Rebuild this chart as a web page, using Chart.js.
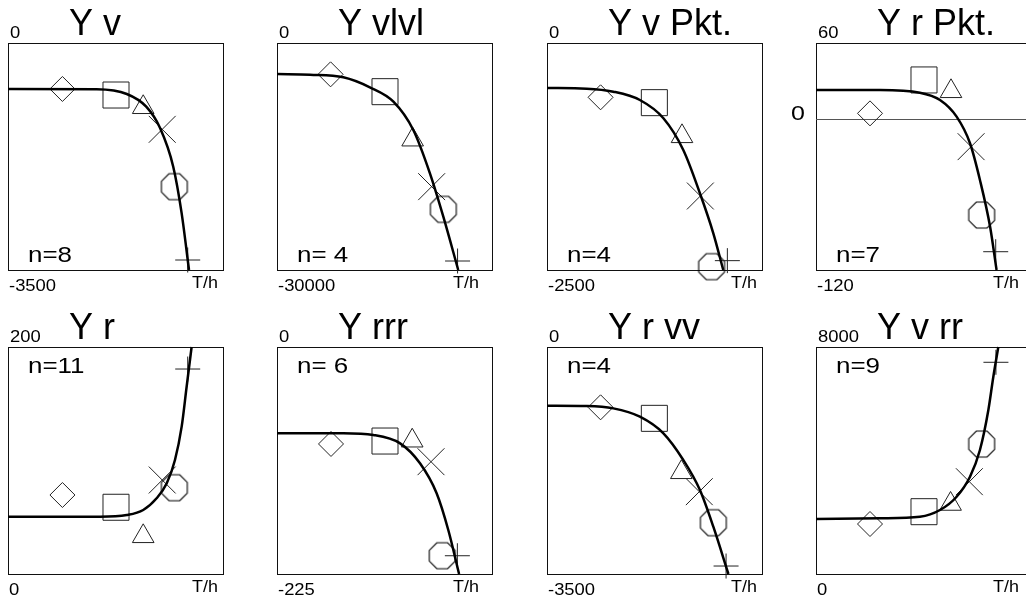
<!DOCTYPE html>
<html lang="de">
<head>
<meta charset="UTF-8">
<title>T/h Kurven</title>
<script src="https://cdn.jsdelivr.net/npm/chart.js"></script>
<style>
  body { margin: 0; background: #fff; width: 1026px; height: 597px; overflow: hidden; position: relative; }
  canvas { position: absolute; }
</style>
</head>
<body>
<script>
// panel data, top row left to right, then bottom row
const titles = ['Y v', 'Y vlvl', 'Y v Pkt.', 'Y r Pkt.', 'Y r', 'Y rrr', 'Y r vv', 'Y v rr'];
const yTop = [0, 0, 0, 60, 200, 0, 0, 8000];
const yBottom = [-3500, -30000, -2500, -120, 0, -225, -3500, 0];
const nLabels = ['n=8', 'n= 4', 'n=4', 'n=7', 'n=11', 'n= 6', 'n=4', 'n=9'];
const xLabel = 'T/h';

// fitted curve, x in % of T/h range
const curveX = [
  [0, 41, 55, 64, 70.4, 76.5, 80.4, 83.8],
  [0, 15.3, 30.7, 43, 53.9, 63.1, 70.8, 77, 83.9],
  [0, 18.4, 30.7, 43, 53.9, 63.1, 70.8, 77, 81.6],
  [0, 29.6, 48.1, 57.4, 65.1, 71.3, 75.9, 80.6, 83.6],
  [0, 42.6, 55, 62.6, 68.8, 73.5, 77.3, 80.4, 82.7, 85],
  [0, 30.7, 44.6, 57, 66.2, 73.9, 79.3, 84.3],
  [0, 18.4, 30.7, 43, 53.9, 63.1, 70.8, 77, 84],
  [0, 29.6, 48.1, 57.4, 65.1, 71.3, 75.9, 79.8, 82.1, 84.4]
];
const curveY = [
  [-709, -714, -786, -982, -1311, -1907, -2626, -3500],
  [-4097, -4185, -4537, -5859, -7753, -11498, -17225, -22952, -30000],
  [-496, -503, -536, -628, -829, -1178, -1655, -2096, -2500],
  [22.7, 22.7, 20.6, 14.8, 1.6, -19.5, -48.6, -85.7, -120],
  [50.5, 50.5, 52, 56.4, 66.7, 79.9, 100.4, 129.8, 165, 200],
  [-85.6, -85.6, -87.2, -95.5, -115.3, -145, -181.4, -225],
  [-905, -910, -946, -1074, -1331, -1742, -2205, -2771, -3500],
  [1938, 1963, 2020, 2256, 2724, 3429, 4370, 5780, 6953, 8000]
];

// measured points: diamond, square, triangle, x, octagon, plus
const markerX = [
  [25.2, 50, 62.6, 71.4, 77, 83.2],
  [24.8, 50, 62.8, 71.6, 77, 83.6],
  [24.8, 49.7, 62.5, 71, 76.2, 83.5],
  [25, 50, 62.5, 71.8, 76.7, 83.2],
  [25.2, 50, 62.6, 71.4, 77, 83.2],
  [25, 50, 62.6, 71.3, 76.5, 83.5],
  [24.8, 49.7, 62.2, 70.5, 77, 82.9],
  [25, 50, 62.3, 71, 76.7, 83.3]
];
const markerY = [
  [-709, -802, -991, -1331, -2215, -3346],
  [-4141, -6432, -12780, -18987, -21987, -28811],
  [-598, -657, -1028, -1685, -2463, -2397],
  [4.2, 30.7, 21.7, -22.2, -76.4, -105.5],
  [69.6, 58.8, 33.2, 82.8, 76, 180.6],
  [-96.1, -93.2, -92.9, -113.7, -206.9, -206.9],
  [-930, -1100, -1932, -2231, -2709, -3377],
  [1762, 2196, 2467, 3253, 4581, 7461]
];

// layout
const boxLefts = [8, 277, 547, 816];
const boxTops = [43, 347];
const boxW = 216, boxH = 227;
const padL = 36, padT = 43, padR = 17, padB = 27;
const unitOffset = [184, 176, 184, 177];
const FONT = "'Liberation Sans', Arial, sans-serif";

function octagon(r) {
  const c = document.createElement('canvas');
  const s = Math.ceil(r * 2 + 4);
  c.width = s; c.height = s;
  const g = c.getContext('2d');
  g.strokeStyle = '#000';
  g.lineWidth = 1.1;
  g.beginPath();
  for (let k = 0; k < 8; k++) {
    const ang = Math.PI / 8 + k * Math.PI / 4;
    const px = s / 2 + r * Math.cos(ang), py = s / 2 + r * Math.sin(ang);
    if (k) g.lineTo(px, py); else g.moveTo(px, py);
  }
  g.closePath();
  g.stroke();
  return c;
}

const markerStyles = ['rectRot', 'rect', 'triangle', 'crossRot', octagon(14), 'cross'];
const markerRadii = [12.5, 18.4, 12.5, 19, 14, 12.5];

function label(ctx, text, x, y, size, sx, align) {
  ctx.save();
  ctx.translate(x, y);
  ctx.scale(sx, 1);
  ctx.font = size + 'px ' + FONT;
  ctx.textAlign = align || 'left';
  ctx.textBaseline = 'alphabetic';
  ctx.fillStyle = '#000';
  ctx.fillText(text, 0, 0);
  ctx.restore();
}

function panelDeco(i) {
  const col = i % 4, row = Math.floor(i / 4);
  return {
    id: 'panelDeco' + i,
    beforeDatasetsDraw(chart) {
      const { ctx, chartArea: a, scales } = chart;
      ctx.save();
      ctx.strokeStyle = '#111';
      ctx.lineWidth = 1;
      ctx.strokeRect(a.left + 0.5, a.top + 0.5, a.right - a.left - 1, a.bottom - a.top);
      if (yTop[i] > 0 && yBottom[i] < 0) {
        const y0 = Math.round(scales.y.getPixelForValue(0)) + 0.5;
        ctx.strokeStyle = '#555';
        ctx.beginPath();
        ctx.moveTo(a.left, y0);
        ctx.lineTo(a.right, y0);
        ctx.stroke();
      }
      ctx.restore();
    },
    afterDraw(chart) {
      const { ctx, chartArea: a, scales } = chart;
      label(ctx, titles[i], a.left + 61, a.top - 8, 36, 1);
      label(ctx, String(yTop[i]), a.left + 2, a.top - 5, 16, 1.15);
      label(ctx, String(yBottom[i]), a.left + 1, a.bottom + 21, 16, 1.15);
      label(ctx, xLabel, a.left + unitOffset[col], a.bottom + 18, 16, 1.12);
      if (row === 0) {
        label(ctx, nLabels[i], a.left + 20, a.bottom - 8, 22, 1.18);
      } else {
        label(ctx, nLabels[i], a.left + 20, a.top + 26, 22, 1.18);
      }
      if (yTop[i] > 0 && yBottom[i] < 0) {
        const y0 = scales.y.getPixelForValue(0);
        label(ctx, '0', a.left - 11, y0 + 1, 20, 1.25, 'right');
      }
    }
  };
}

for (let i = 0; i < titles.length; i++) {
  const col = i % 4, row = Math.floor(i / 4);
  const canvas = document.createElement('canvas');
  canvas.width = padL + boxW + padR;
  canvas.height = padT + boxH + padB;
  canvas.style.left = (boxLefts[col] - padL) + 'px';
  canvas.style.top = (boxTops[row] - padT) + 'px';
  document.body.appendChild(canvas);

  new Chart(canvas, {
    type: 'scatter',
    data: {
      datasets: [
        {
          type: 'line',
          data: curveX[i].map((x, k) => ({ x: x, y: curveY[i][k] })),
          borderColor: '#000',
          borderWidth: 2.5,
          pointRadius: 0,
          fill: false,
          cubicInterpolationMode: 'monotone',
          clip: 1
        },
        {
          data: markerX[i].map((x, k) => ({ x: x, y: markerY[i][k] })),
          showLine: false,
          pointStyle: markerStyles,
          pointRadius: markerRadii,
          pointBorderColor: '#222',
          pointBackgroundColor: 'rgba(0,0,0,0)',
          pointBorderWidth: 1,
          clip: false
        }
      ]
    },
    options: {
      responsive: false,
      animation: false,
      events: [],
      layout: {
        autoPadding: false,
        padding: { left: padL, right: padR, top: padT, bottom: padB }
      },
      scales: {
        x: { type: 'linear', min: 0, max: 100, display: false },
        y: { type: 'linear', min: yBottom[i], max: yTop[i], display: false }
      },
      plugins: {
        legend: { display: false },
        tooltip: { enabled: false }
      }
    },
    plugins: [panelDeco(i)]
  });
}
</script>
</body>
</html>
